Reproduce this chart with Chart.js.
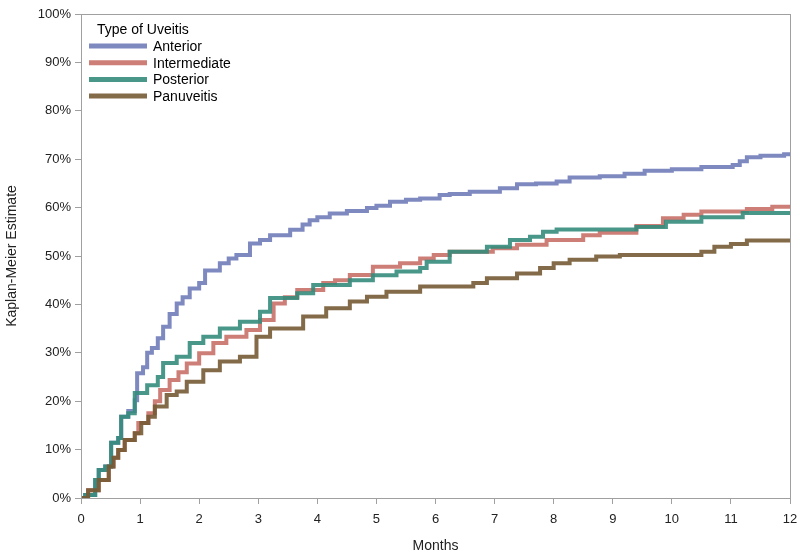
<!DOCTYPE html>
<html>
<head>
<meta charset="utf-8">
<script src="https://cdn.jsdelivr.net/npm/chart.js@4"></script>
<style>
  html, body { margin: 0; padding: 0; background: #fff; }
  #wrap { width: 800px; height: 555px; position: relative; }
</style>
</head>
<body>
<div id="wrap"><canvas id="myChart"></canvas></div>
<script>
// Kaplan-Meier estimates (months, percent)
var anteriorT = [0, 0.07, 0.24, 0.3, 0.41, 0.51, 0.63, 0.68, 0.8, 0.91, 0.95, 1.05, 1.12, 1.2, 1.3, 1.39, 1.5, 1.62, 1.72, 1.84, 2.0, 2.1, 2.35, 2.5, 2.63, 2.86, 3.03, 3.2, 3.54, 3.75, 3.87, 4.0, 4.21, 4.5, 4.84, 5.0, 5.23, 5.5, 5.74, 6.07, 6.24, 6.58, 7.09, 7.38, 7.7, 8.05, 8.27, 8.78, 9.2, 9.54, 10.0, 10.5, 11.03, 11.15, 11.27, 11.5, 11.9, 12];
var anteriorY = [0, 0.6, 3.7, 5.8, 6.5, 11.4, 12.4, 16.8, 18, 20.2, 25.8, 27, 30, 31, 33, 35.4, 38, 40.2, 41.5, 43.3, 44.4, 47, 48.5, 49.5, 50.2, 52.6, 53.3, 54.3, 55.4, 56.5, 57.4, 58, 58.8, 59.3, 59.9, 60.4, 61.2, 61.6, 61.9, 62.6, 62.8, 63.3, 64, 64.8, 65, 65.4, 66.2, 66.5, 67, 67.6, 67.9, 68.4, 68.8, 69.6, 70.4, 70.7, 71, 71];

var intermediateT = [0, 0.12, 0.3, 0.47, 0.55, 0.63, 0.74, 0.91, 0.97, 1.14, 1.25, 1.34, 1.5, 1.65, 1.79, 2.0, 2.24, 2.46, 2.8, 3.03, 3.26, 3.45, 3.66, 4.1, 4.3, 4.55, 4.94, 5.4, 5.74, 5.97, 6.24, 6.97, 7.38, 7.88, 8.5, 8.78, 9.4, 9.85, 10.2, 10.5, 11.27, 11.7, 12];
var intermediateY = [0, 1.6, 3.7, 6.5, 8.3, 9.9, 12, 13.4, 15.5, 17.5, 20, 22.3, 24.4, 26, 27.8, 29.9, 32, 33.3, 34.7, 36.8, 40.2, 41.5, 43, 44.4, 45, 46.1, 47.8, 48.5, 49.5, 50.2, 50.9, 51.6, 52.3, 53.3, 54.3, 54.8, 56.2, 57.8, 58.5, 59.2, 59.7, 60.2, 60.2];

var posteriorT = [0, 0.07, 0.24, 0.3, 0.41, 0.51, 0.63, 0.68, 0.8, 0.91, 1.12, 1.3, 1.39, 1.62, 1.84, 2.07, 2.35, 2.69, 3.03, 3.2, 3.66, 3.93, 4.55, 4.94, 5.34, 5.74, 5.85, 6.24, 6.87, 7.26, 7.6, 7.82, 8.05, 9.12, 9.4, 9.9, 10.5, 11.2, 12];
var posteriorY = [0, 0.6, 3.7, 5.8, 6.5, 11.4, 12.4, 16.8, 17.5, 21.7, 23.3, 25, 27.9, 29.2, 32, 33.3, 35, 36.4, 38.5, 41.3, 42.3, 44, 45, 46, 46.8, 47.5, 48.8, 50.9, 51.9, 53.3, 54, 55, 55.5, 55.5, 56, 57.1, 58, 58.9, 58.9];

var panuveitisT = [0, 0.12, 0.3, 0.47, 0.55, 0.63, 0.74, 0.91, 1.02, 1.14, 1.25, 1.45, 1.62, 1.79, 2.07, 2.35, 2.69, 2.97, 3.2, 3.76, 4.15, 4.55, 4.84, 5.17, 5.74, 6.64, 6.87, 7.38, 7.77, 8.0, 8.27, 8.72, 9.12, 10.5, 10.72, 11.0, 11.27, 12];
var panuveitisY = [0, 1.6, 3.7, 6.5, 8.3, 9.9, 12, 13.4, 15.5, 16.8, 18.9, 21.3, 22, 24, 26.4, 28.2, 29.2, 33.3, 35, 37.5, 39.2, 40.6, 41.6, 42.6, 43.7, 44.4, 45.4, 46.4, 47.5, 48.5, 49.2, 49.9, 50.2, 50.9, 51.9, 52.5, 53.2, 53.2];

var seriesNames = ['Anterior', 'Intermediate', 'Posterior', 'Panuveitis'];
var seriesColors = ['rgba(112,124,185,0.9)', 'rgba(200,112,104,0.9)', 'rgba(52,140,124,0.9)', 'rgba(118,90,52,0.9)'];
var legendTitle = 'Type of Uveitis';

function toPoints(t, y) {
    return t.map(function (v, i) { return { x: v, y: y[i] }; });
}

var allSeries = [
    toPoints(anteriorT, anteriorY),
    toPoints(intermediateT, intermediateY),
    toPoints(posteriorT, posteriorY),
    toPoints(panuveitisT, panuveitisY)
];

var FONT = '"Liberation Sans", Arial, sans-serif';
var AXIS_GRAY = '#a0a0a0';

// frame around the plot area and the legend inside it
var framePlugin = {
    id: 'frameAndLegend',
    afterDraw: function (chart) {
        var ctx = chart.ctx;
        var a = chart.chartArea;
        ctx.save();
        ctx.strokeStyle = AXIS_GRAY;
        ctx.lineWidth = 1;
        ctx.strokeRect(a.left + 0.5, a.top + 0.5, a.right - a.left, a.bottom - a.top);

        ctx.fillStyle = '#000';
        ctx.font = '14px ' + FONT;
        ctx.textBaseline = 'middle';
        ctx.textAlign = 'left';
        ctx.fillText(legendTitle, 97, 30);
        for (var i = 0; i < seriesNames.length; i++) {
            var y = 46 + i * 16.7;
            ctx.strokeStyle = seriesColors[i];
            ctx.lineWidth = 5;
            ctx.beginPath();
            ctx.moveTo(89, y);
            ctx.lineTo(147, y);
            ctx.stroke();
            ctx.fillText(seriesNames[i], 153, y + 1);
        }
        ctx.restore();
    }
};

var ctx = document.getElementById('myChart').getContext('2d');
var currentChart = new Chart(ctx, {
    type: 'line',
    data: {
        datasets: allSeries.map(function (pts, i) {
            return {
                label: seriesNames[i],
                data: pts,
                borderColor: seriesColors[i],
                borderWidth: 4,
                pointRadius: 0,
                stepped: true,
                fill: false,
                order: 4 - i
            };
        })
    },
    options: {
        responsive: true,
        maintainAspectRatio: false,
        animation: false,
        layout: { padding: { top: 14, right: 10, left: 0, bottom: 0 } },
        plugins: {
            legend: { display: false },
            tooltip: { enabled: false }
        },
        scales: {
            x: {
                type: 'linear',
                min: 0,
                max: 12,
                afterFit: function (s) { s.height = 57; s.paddingLeft = 0; s.paddingRight = 0; },
                ticks: { stepSize: 1, color: '#222', font: { family: FONT, size: 13 }, padding: 8, maxRotation: 0 },
                grid: { drawOnChartArea: false, drawTicks: true, tickLength: 6, color: AXIS_GRAY },
                border: { color: AXIS_GRAY },
                title: { display: true, text: 'Months', color: '#222', font: { family: FONT, size: 14 }, padding: { top: 4, bottom: 0 } }
            },
            y: {
                min: 0,
                max: 100,
                afterFit: function (s) { s.width = 81; s.paddingTop = 0; s.paddingBottom = 0; },
                ticks: {
                    stepSize: 10,
                    color: '#222',
                    font: { family: FONT, size: 13 },
                    padding: 4,
                    callback: function (v) { return v + '%'; }
                },
                grid: { drawOnChartArea: false, drawTicks: true, tickLength: 6, color: AXIS_GRAY },
                border: { color: AXIS_GRAY },
                title: { display: true, text: 'Kaplan-Meier Estimate', color: '#222', font: { family: FONT, size: 14 }, padding: { bottom: 2 } }
            }
        }
    },
    plugins: [framePlugin]
});
</script>
</body>
</html>
